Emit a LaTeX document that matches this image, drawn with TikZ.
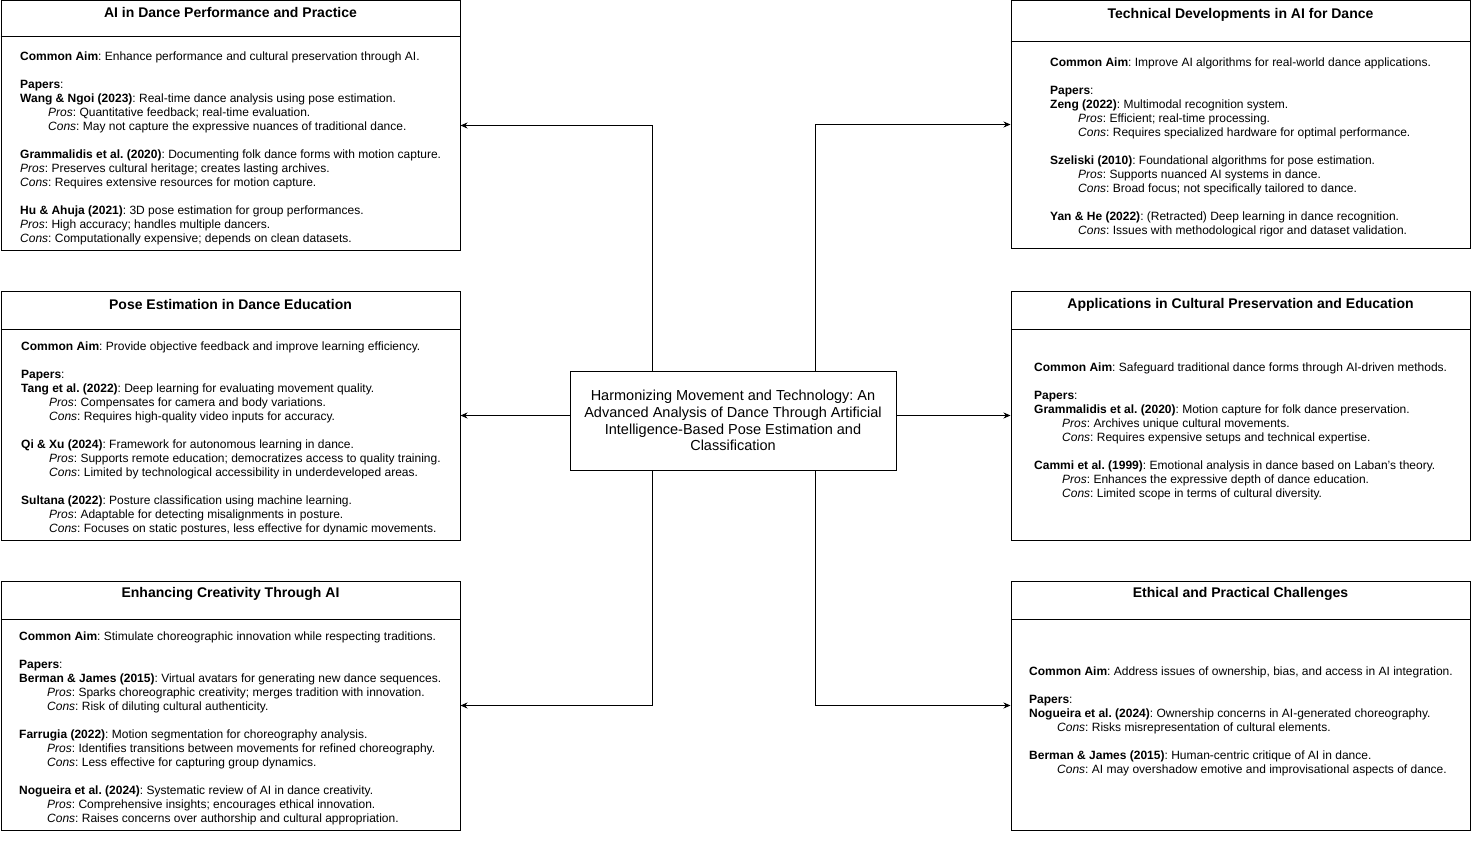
\documentclass[tikz,border=0pt]{standalone}
\usepackage{fontspec}
\setmainfont{Liberation Sans}
\usetikzlibrary{arrows.meta}
\frenchspacing
\tikzstyle{panel}=[draw,rectangle,minimum width=459pt,minimum height=249pt,inner sep=0pt,line width=1pt]
\tikzstyle{paneltitle}=[font=\bfseries\fontsize{14}{16}\selectfont,inner sep=0pt]
\tikzstyle{panelbody}=[anchor=west,align=left,font=\fontsize{12}{14}\selectfont,inner sep=0pt]
\tikzstyle{hub}=[draw,rectangle,minimum width=326pt,minimum height=99pt,align=center,font=\fontsize{14.5}{16.8}\selectfont,line width=1pt]
\tikzstyle{link}=[-{Stealth[length=7pt,width=6pt]},line width=1pt]
\newcommand{\ind}{\hspace*{28pt}}

\begin{document}
\begin{tikzpicture}[x=1pt,y=-1pt]
    \useasboundingbox (0,0) rectangle (1472,861);
    % panels
    \node[panel] (perf) at (230.5,125.5) {};
    \node[panel] (edu) at (230.5,415.5) {};
    \node[panel] (crea) at (230.5,705.5) {};
    \node[panel,minimum height=247pt] (tech) at (1240.5,124.5) {};
    \node[panel] (cult) at (1240.5,415.5) {};
    \node[panel] (ethic) at (1240.5,705.5) {};

    \foreach \p/\h in {perf/36,edu/39,crea/39,tech/41,cult/39,ethic/39}
    \draw[line width=1pt] ([yshift=-\h pt]\p.north west) -- ([yshift=-\h pt]\p.north east);

    % titles
    \node[paneltitle] (perft) at ([yshift=-11.5pt]perf.north) {AI in Dance Performance and Practice};
    \node[paneltitle] (edut) at ([yshift=-13.5pt]edu.north) {Pose Estimation in Dance Education};
    \node[paneltitle] (creat) at ([yshift=-13.5pt]crea.north) {Enhancing Creativity Through AI};
    \node[paneltitle] (techt) at ([yshift=-14.5pt]tech.north) {Technical Developments in AI for Dance};
    \node[paneltitle] (cultt) at ([yshift=-14.5pt]cult.north) {Applications in Cultural Preservation and Education};
    \node[paneltitle] (ethict) at ([yshift=-13.5pt]ethic.north) {Ethical and Practical Challenges};

    % bodies
    \node[panelbody] (perfb) at (20,148) {\textbf{Common Aim}: Enhance performance and cultural preservation through AI.\\[14pt]
        \textbf{Papers}:\\
        \textbf{Wang \& Ngoi (2023)}: Real-time dance analysis using pose estimation.\\
        \ind\textit{Pros}: Quantitative feedback; real-time evaluation.\\
        \ind\textit{Cons}: May not capture the expressive nuances of traditional dance.\\[14pt]
        \textbf{Grammalidis et al. (2020)}: Documenting folk dance forms with motion capture.\\
        \textit{Pros}: Preserves cultural heritage; creates lasting archives.\\
        \textit{Cons}: Requires extensive resources for motion capture.\\[14pt]
        \textbf{Hu \& Ahuja (2021)}: 3D pose estimation for group performances.\\
        \textit{Pros}: High accuracy; handles multiple dancers.\\
        \textit{Cons}: Computationally expensive; depends on clean datasets.};
    \node[panelbody] (edub) at (21,438) {\textbf{Common Aim}: Provide objective feedback and improve learning efficiency.\\[14pt]
        \textbf{Papers}:\\
        \textbf{Tang et al. (2022)}: Deep learning for evaluating movement quality.\\
        \ind\textit{Pros}: Compensates for camera and body variations.\\
        \ind\textit{Cons}: Requires high-quality video inputs for accuracy.\\[14pt]
        \textbf{Qi \& Xu (2024)}: Framework for autonomous learning in dance.\\
        \ind\textit{Pros}: Supports remote education; democratizes access to quality training.\\
        \ind\textit{Cons}: Limited by technological accessibility in underdeveloped areas.\\[14pt]
        \textbf{Sultana (2022)}: Posture classification using machine learning.\\
        \ind\textit{Pros}: Adaptable for detecting misalignments in posture.\\
        \ind\textit{Cons}: Focuses on static postures, less effective for dynamic movements.};
    \node[panelbody] (creab) at (19,728) {\textbf{Common Aim}: Stimulate choreographic innovation while respecting traditions.\\[14pt]
        \textbf{Papers}:\\
        \textbf{Berman \& James (2015)}: Virtual avatars for generating new dance sequences.\\
        \ind\textit{Pros}: Sparks choreographic creativity; merges tradition with innovation.\\
        \ind\textit{Cons}: Risk of diluting cultural authenticity.\\[14pt]
        \textbf{Farrugia (2022)}: Motion segmentation for choreography analysis.\\
        \ind\textit{Pros}: Identifies transitions between movements for refined choreography.\\
        \ind\textit{Cons}: Less effective for capturing group dynamics.\\[14pt]
        \textbf{Nogueira et al. (2024)}: Systematic review of AI in dance creativity.\\
        \ind\textit{Pros}: Comprehensive insights; encourages ethical innovation.\\
        \ind\textit{Cons}: Raises concerns over authorship and cultural appropriation.};
    \node[panelbody] (techb) at (1050,147) {\textbf{Common Aim}: Improve AI algorithms for real-world dance applications.\\[14pt]
        \textbf{Papers}:\\
        \textbf{Zeng (2022)}: Multimodal recognition system.\\
        \ind\textit{Pros}: Efficient; real-time processing.\\
        \ind\textit{Cons}: Requires specialized hardware for optimal performance.\\[14pt]
        \textbf{Szeliski (2010)}: Foundational algorithms for pose estimation.\\
        \ind\textit{Pros}: Supports nuanced AI systems in dance.\\
        \ind\textit{Cons}: Broad focus; not specifically tailored to dance.\\[14pt]
        \textbf{Yan \& He (2022)}: (Retracted) Deep learning in dance recognition.\\
        \ind\textit{Cons}: Issues with methodological rigor and dataset validation.};
    \node[panelbody] (cultb) at (1034,431) {\textbf{Common Aim}: Safeguard traditional dance forms through AI-driven methods.\\[14pt]
        \textbf{Papers}:\\
        \textbf{Grammalidis et al. (2020)}: Motion capture for folk dance preservation.\\
        \ind\textit{Pros}: Archives unique cultural movements.\\
        \ind\textit{Cons}: Requires expensive setups and technical expertise.\\[14pt]
        \textbf{Cammi et al. (1999)}: Emotional analysis in dance based on Laban’s theory.\\
        \ind\textit{Pros}: Enhances the expressive depth of dance education.\\
        \ind\textit{Cons}: Limited scope in terms of cultural diversity.};
    \node[panelbody] (ethicb) at (1029,721.5) {\textbf{Common Aim}: Address issues of ownership, bias, and access in AI integration.\\[14pt]
        \textbf{Papers}:\\
        \textbf{Nogueira et al. (2024)}: Ownership concerns in AI-generated choreography.\\
        \ind\textit{Cons}: Risks misrepresentation of cultural elements.\\[14pt]
        \textbf{Berman \& James (2015)}: Human-centric critique of AI in dance.\\
        \ind\textit{Cons}: AI may overshadow emotive and improvisational aspects of dance.};

    % centre
    \node[hub] (hub) at (733,420.5) {Harmonizing Movement and Technology: An\\Advanced Analysis of Dance Through Artificial\\Intelligence-Based Pose Estimation and\\Classification};

    \draw[link] ([xshift=-81pt]hub.north) |- (perf.east);
    \draw[link] ([xshift=82pt]hub.north) |- (tech.west);
    \draw[link] (hub.west |- edu.east) -- (edu.east);
    \draw[link] (hub.east |- cult.west) -- (cult.west);
    \draw[link] ([xshift=-81pt]hub.south) |- (crea.east);
    \draw[link] ([xshift=82pt]hub.south) |- (ethic.west);
\end{tikzpicture}
\end{document}
